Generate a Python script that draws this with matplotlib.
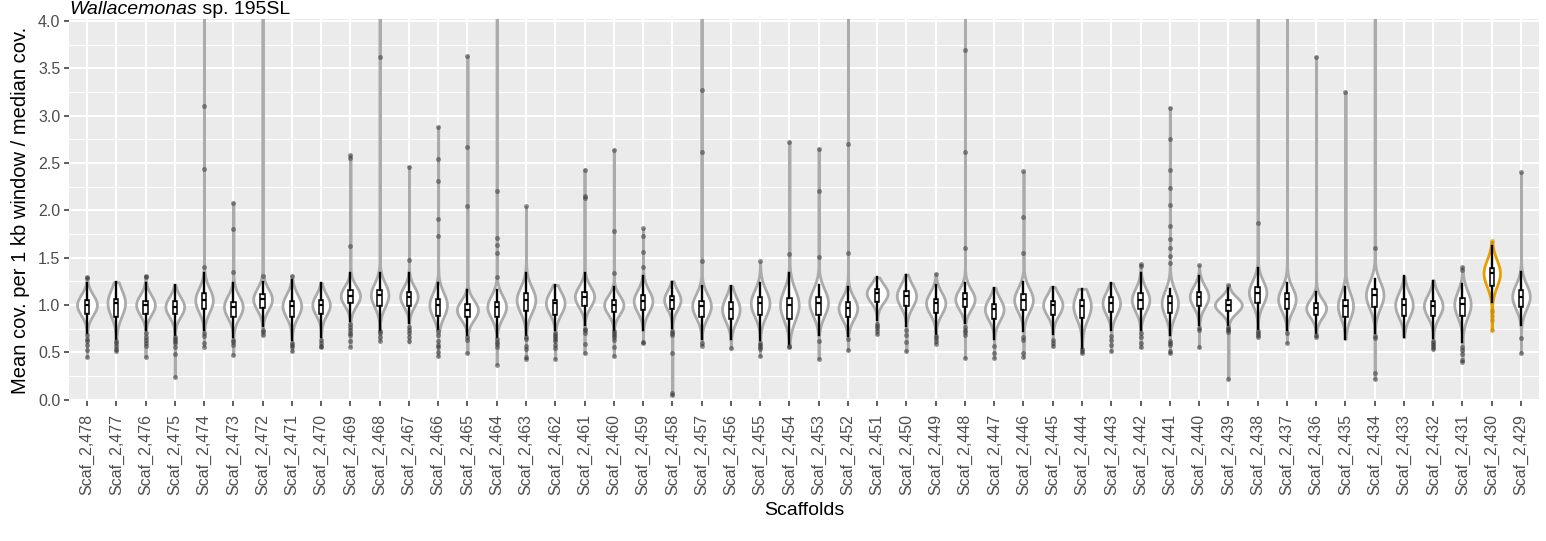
import numpy as np
import matplotlib.pyplot as plt

plt.rcParams['font.family'] = ['Liberation Sans', 'DejaVu Sans']

# scaffolds, left to right
scaffolds = ['Scaf_2,%d' % n for n in range(478, 428, -1)]
highlight = 'Scaf_2,430'

# box stats
q1 = [0.905, 0.87, 0.905, 0.90, 0.96, 0.877, 0.965, 0.877, 0.905, 1.018,
      0.99, 0.993, 0.884, 0.87, 0.87, 0.94, 0.894, 0.993, 0.92, 0.947,
      0.958, 0.877, 0.856, 0.894, 0.856, 0.89, 0.877, 1.035, 0.99, 0.912,
      0.975, 0.856, 0.947, 0.894, 0.86, 0.92, 0.96, 0.912, 0.99, 0.94,
      1.018, 0.954, 0.894, 0.87, 0.975, 0.884, 0.884, 0.884, 1.204, 0.982]
med = [1.00, 1.02, 1.00, 0.98, 1.05, 0.98, 1.06, 0.99, 1.00, 1.095,
       1.105, 1.088, 1.00, 0.947, 0.98, 1.053, 1.02, 1.088, 1.00, 1.04,
       1.053, 0.99, 0.954, 1.018, 1.00, 1.025, 0.965, 1.123, 1.095, 1.018,
       1.06, 0.954, 1.053, 1.00, 0.99, 1.018, 1.053, 1.018, 1.088, 1.00,
       1.13, 1.06, 0.965, 0.99, 1.105, 1.00, 0.99, 1.007, 1.335, 1.088]
q3 = [1.05, 1.06, 1.046, 1.04, 1.13, 1.035, 1.116, 1.04, 1.05, 1.158,
      1.158, 1.134, 1.06, 1.01, 1.03, 1.123, 1.053, 1.14, 1.053, 1.105,
      1.095, 1.046, 1.03, 1.08, 1.074, 1.08, 1.035, 1.165, 1.15, 1.067,
      1.123, 1.01, 1.116, 1.042, 1.053, 1.08, 1.123, 1.095, 1.14, 1.053,
      1.187, 1.123, 1.025, 1.053, 1.165, 1.06, 1.042, 1.07, 1.394, 1.158]
whislo = [0.70, 0.64, 0.73, 0.68, 0.74, 0.665, 0.78, 0.63, 0.665, 0.825,
          0.74, 0.806, 0.75, 0.683, 0.665, 0.683, 0.73, 0.79, 0.735, 0.74,
          0.753, 0.64, 0.64, 0.63, 0.59, 0.683, 0.67, 0.84, 0.78, 0.694,
          0.806, 0.637, 0.72, 0.694, 0.54, 0.736, 0.73, 0.683, 0.79, 0.79,
          0.743, 0.73, 0.70, 0.637, 0.70, 0.66, 0.648, 0.61, 1.035, 0.79]
whishi = [1.236, 1.24, 1.23, 1.21, 1.335, 1.23, 1.246, 1.264, 1.23, 1.335,
          1.335, 1.335, 1.23, 1.158, 1.158, 1.335, 1.21, 1.34, 1.19, 1.30,
          1.246, 1.20, 1.20, 1.23, 1.335, 1.21, 1.19, 1.29, 1.317, 1.21,
          1.236, 1.18, 1.246, 1.187, 1.17, 1.23, 1.335, 1.17, 1.31, 1.176,
          1.387, 1.236, 1.14, 1.194, 1.27, 1.306, 1.257, 1.22, 1.623, 1.35]

# full data range of each violin (4.6 = runs off the top)
vmin = [0.45, 0.51, 0.45, 0.24, 0.56, 0.47, 0.68, 0.51, 0.55, 0.56,
        0.62, 0.60, 0.46, 0.49, 0.37, 0.43, 0.43, 0.49, 0.46, 0.60,
        0.05, 0.57, 0.54, 0.46, 0.55, 0.43, 0.52, 0.69, 0.51, 0.59,
        0.44, 0.44, 0.45, 0.56, 0.49, 0.51, 0.55, 0.49, 0.55, 0.22,
        0.66, 0.60, 0.66, 0.64, 0.22, 0.66, 0.53, 0.40, 0.73, 0.49]
vmax = [1.29, 1.24, 1.31, 1.21, 4.6, 2.08, 4.6, 1.31, 1.23, 2.58,
        4.6, 2.46, 2.88, 3.63, 4.6, 2.04, 1.21, 2.43, 2.64, 1.81,
        1.25, 4.6, 1.20, 1.46, 2.72, 2.65, 4.6, 1.29, 1.32, 1.33,
        4.6, 1.18, 2.41, 1.19, 1.17, 1.23, 1.43, 3.08, 1.42, 1.21,
        4.6, 4.6, 3.62, 3.25, 4.6, 1.30, 1.26, 1.40, 1.67, 2.40]
vhalf = [0.34, 0.30, 0.32, 0.32, 0.30, 0.32, 0.32, 0.32, 0.30, 0.33,
         0.30, 0.30, 0.30, 0.36, 0.32, 0.32, 0.32, 0.33, 0.33, 0.32,
         0.28, 0.32, 0.30, 0.32, 0.32, 0.32, 0.32, 0.36, 0.33, 0.33,
         0.33, 0.32, 0.32, 0.33, 0.30, 0.30, 0.30, 0.28, 0.32, 0.46,
         0.30, 0.30, 0.34, 0.26, 0.30, 0.30, 0.32, 0.28, 0.28, 0.30]

# outliers
out_lo = [[0.68, 0.64, 0.62, 0.58, 0.52, 0.45], [0.62, 0.60, 0.57, 0.53, 0.51],
          [0.70, 0.66, 0.63, 0.60, 0.57, 0.45], [0.66, 0.64, 0.62, 0.60, 0.55, 0.48, 0.24],
          [0.70, 0.67, 0.60, 0.56], [0.63, 0.61, 0.58, 0.47], [0.74, 0.71, 0.68],
          [0.60, 0.58, 0.56, 0.51], [0.63, 0.60, 0.57, 0.55],
          [0.80, 0.77, 0.74, 0.70, 0.68, 0.62, 0.56], [0.72, 0.70, 0.66, 0.62],
          [0.77, 0.74, 0.70, 0.66, 0.62], [0.72, 0.68, 0.62, 0.58, 0.55, 0.50, 0.46],
          [0.665, 0.63, 0.49], [0.64, 0.61, 0.59, 0.55, 0.37],
          [0.66, 0.64, 0.57, 0.53, 0.45, 0.43], [0.70, 0.68, 0.66, 0.64, 0.62, 0.58, 0.54, 0.43],
          [0.75, 0.73, 0.70, 0.59, 0.49], [0.72, 0.70, 0.68, 0.66, 0.63, 0.55, 0.46],
          [0.61, 0.60], [0.72, 0.70, 0.68, 0.49, 0.07, 0.05], [0.60, 0.57], [0.54],
          [0.60, 0.58, 0.56, 0.53, 0.46], [0.57, 0.55], [0.62, 0.43], [0.64, 0.52],
          [0.80, 0.78, 0.76, 0.72, 0.69], [0.73, 0.68, 0.61, 0.51], [0.67, 0.65, 0.62, 0.59],
          [0.77, 0.74, 0.71, 0.68, 0.44], [0.57, 0.49, 0.44], [0.665, 0.63, 0.49, 0.45],
          [0.63, 0.60, 0.57], [0.53, 0.51, 0.49], [0.67, 0.63, 0.58, 0.51],
          [0.70, 0.66, 0.60, 0.56], [0.62, 0.60, 0.58, 0.51, 0.49], [0.76, 0.74, 0.56],
          [0.77, 0.75, 0.73, 0.71, 0.22], [0.72, 0.70, 0.68, 0.66], [0.70, 0.60],
          [0.68, 0.66], [], [0.67, 0.65, 0.28, 0.22], [], [0.62, 0.60, 0.58, 0.56, 0.53],
          [0.56, 0.52, 0.48, 0.42, 0.40], [0.95, 0.92, 0.88, 0.84, 0.73], [0.65, 0.49]]
out_hi = [[1.28, 1.29], [], [1.29, 1.31], [], [1.40, 2.44, 3.10], [1.35, 1.80, 2.08],
          [1.31], [1.31], [], [1.62, 2.55, 2.58], [3.62], [1.47, 2.46],
          [1.73, 1.91, 2.31, 2.54, 2.88], [2.04, 2.67, 3.63], [1.29, 1.55, 1.63, 1.71, 2.20],
          [2.04], [], [2.13, 2.15, 2.43], [1.34, 1.78, 2.64], [1.40, 1.56, 1.73, 1.81],
          [], [1.46, 2.61, 3.27], [], [1.46], [1.54, 2.72], [1.51, 2.20, 2.65],
          [1.55, 2.70], [], [], [1.33], [1.60, 2.62, 3.69], [], [1.55, 1.93, 2.41],
          [], [], [], [1.41, 1.43],
          [1.44, 1.52, 1.60, 1.70, 1.83, 2.05, 2.23, 2.42, 2.75, 3.08],
          [1.42], [1.21], [1.87], [], [3.62], [3.25], [1.60], [], [], [1.37, 1.40],
          [1.67], [2.40]]

n = len(scaffolds)
pos = np.arange(n)
line_col = ['#E69F00' if s == highlight else '#ABABAB' for s in scaffolds]

fig = plt.figure(figsize=(15.46, 5.41), dpi=100)
ax = fig.add_axes([0.0449, 0.2588, 0.9503, 0.7061])
ax.set_facecolor('#EBEBEB')

# violins (gaussian body around the median, tails to min/max)
vpstats = []
for i in range(n):
    coords = np.linspace(vmin[i], vmax[i], 800)
    s = (q3[i] - q1[i]) / 1.35
    vals = np.exp(-0.5 * ((coords - med[i]) / s) ** 2)
    vpstats.append({'coords': coords, 'vals': vals, 'mean': med[i], 'median': med[i],
                    'min': vmin[i], 'max': vmax[i]})
parts = ax.violin(vpstats, positions=pos, widths=[2 * w for w in vhalf],
                  showmeans=False, showextrema=False)
for body, c in zip(parts['bodies'], line_col):
    body.set_facecolor('white')
    body.set_edgecolor(c)
    body.set_linewidth(2.0)
    body.set_alpha(1)
    body.set_zorder(2)

stats = [dict(med=med[i], q1=q1[i], q3=q3[i], whislo=whislo[i], whishi=whishi[i],
              fliers=out_lo[i] + out_hi[i]) for i in range(n)]
bp = ax.bxp(stats, positions=pos, widths=0.15, patch_artist=True, showcaps=False,
            boxprops=dict(facecolor='white', edgecolor='black', linewidth=1.1),
            whiskerprops=dict(color='black', linewidth=1.7),
            medianprops=dict(color='black', linewidth=1.6),
            flierprops=dict(marker='o', markerfacecolor='#333333', markeredgecolor='none',
                            markersize=3.6, alpha=0.5),
            zorder=3)
for fl, s in zip(bp['fliers'], scaffolds):
    if s == highlight:
        fl.set_markerfacecolor('#C98A00')

ax.set_xlim(-0.6, n - 1 + 0.6)
ax.set_ylim(-0.015, 4.02)
ax.set_xticks(pos)
ax.set_xticklabels(scaffolds, rotation=90)
ax.set_yticks(np.arange(0, 4.01, 0.5))
ax.set_yticklabels(['%.1f' % v for v in np.arange(0, 4.01, 0.5)])
ax.set_yticks(np.arange(0.25, 4.0, 0.5), minor=True)
ax.grid(which='major', color='white', linewidth=1.5)
ax.grid(which='minor', axis='y', color='white', linewidth=0.8)
ax.set_axisbelow(True)
for sp in ax.spines.values():
    sp.set_visible(False)
ax.tick_params(which='major', length=3.5, width=1.1, color='#333333',
               labelcolor='#4D4D4D', labelsize=11.5, pad=3)
ax.tick_params(axis='x', which='major', pad=6)
ax.tick_params(which='minor', length=0)

ax.set_xlabel('Scaffolds', fontsize=14, labelpad=5)
ax.set_ylabel('Mean cov. per 1 kb window / median cov.', fontsize=14.5, labelpad=6)

ty = 1 - 14.5 / 541
t1 = fig.text(0.0449, ty, 'Wallacemonas', style='italic', fontsize=14, va='baseline')
fig.canvas.draw()
bb = t1.get_window_extent()
fig.text(bb.x1 / fig.bbox.width, ty, ' sp. 195SL', fontsize=14, va='baseline')

fig.savefig('out.png', dpi=100)
